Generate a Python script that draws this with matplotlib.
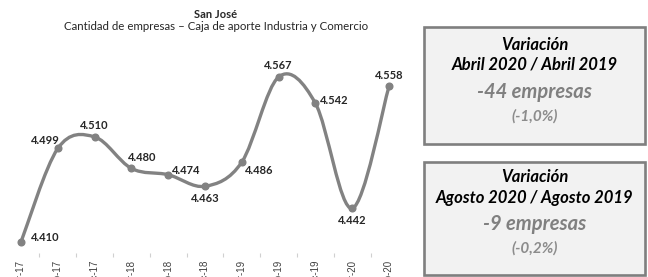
"""San José - cantidad de empresas, Caja de aporte Industria y Comercio."""

import matplotlib

matplotlib.use("Agg")
import matplotlib.pyplot as plt
import numpy as np
from matplotlib.patches import PathPatch, Rectangle
from matplotlib.path import Path

# Data
PERIODS = [
    "abr-17", "ago-17", "dic-17",
    "abr-18", "ago-18", "dic-18",
    "abr-19", "ago-19", "dic-19",
    "abr-20", "ago-20",
]
EMPRESAS = [4.410, 4.499, 4.510, 4.480, 4.474, 4.463, 4.486, 4.567, 4.542, 4.442, 4.558]
LABELS = ["4.410", "4.499", "4.510", "4.480", "4.474", "4.463",
          "4.486", "4.567", "4.542", "4.442", "4.558"]

TITLE = "San José"
SUBTITLE = "Cantidad de empresas – Caja de aporte Industria y Comercio"

BOX_TITLES = ["Abril 2020 / Abril 2019", "Agosto 2020 / Agosto 2019"]
BOX_VALUES = ["-44 empresas", "-9 empresas"]
BOX_PCTS = ["(-1,0%)", "(-0,2%)"]

# Style
W, H = 648, 277
LINE_GREY = "#828282"
TEXT_DARK = "#262626"
FONT = "Lato"

# label offsets in points (dx, dy) and horizontal alignment
LABEL_POS = [
    ((7, 3), "left"), ((-9, 6), "center"), ((0, 8), "center"),
    ((8, 8), "center"), ((3, 3), "left"), ((0, -9), "center"),
    ((2, -6), "left"), ((0, 8), "center"), ((3, 2), "left"),
    ((0, -9), "center"), ((0, 8), "center"),
]


def smooth_path(x, y):
    """Excel-like smoothed line through the points (cubic bezier)."""
    pts = np.column_stack([x, y])
    n = len(pts)
    verts = [pts[0]]
    codes = [Path.MOVETO]
    for i in range(n - 1):
        p0 = pts[max(i - 1, 0)]
        p1 = pts[i]
        p2 = pts[i + 1]
        p3 = pts[min(i + 2, n - 1)]
        verts += [p1 + (p2 - p0) / 6, p2 - (p3 - p1) / 6, p2]
        codes += [Path.CURVE4] * 3
    return Path(verts, codes)


def fx(px):
    return px / W


def fy(py):
    return 1 - py / H


fig = plt.figure(figsize=(W / 100, H / 100), dpi=100)
ax = fig.add_axes([fx(2.6), fy(257), fx(404.8), (257 - 40) / H])

x = np.arange(len(EMPRESAS))
ax.add_patch(
    PathPatch(smooth_path(x, EMPRESAS), facecolor="none", edgecolor=LINE_GREY,
              lw=2.4, capstyle="round", joinstyle="round")
)
ax.plot(x, EMPRESAS, "o", color=LINE_GREY, ms=4.8, zorder=3)

for xi, yi, lab, ((dx, dy), ha) in zip(x, EMPRESAS, LABELS, LABEL_POS):
    ax.annotate(lab, (xi, yi), xytext=(dx, dy), textcoords="offset points",
                ha=ha, va="center", fontsize=8, fontweight="bold",
                family=FONT, color=TEXT_DARK)

ax.set_xlim(-0.5, len(EMPRESAS) - 0.5)
ax.set_ylim(4.3957, 4.6022)
ax.set_xticks(x)
ax.set_xticklabels(PERIODS, rotation=90, fontsize=7, color="#404040",
                   family="Liberation Sans", va="top")
ax.set_xticks(x[:-1] + 0.5, minor=True)
ax.tick_params(axis="x", which="major", length=0, pad=2)
ax.tick_params(axis="x", which="minor", length=3, direction="in",
               color="#d0d0d0", width=0.8)
ax.set_yticks([])
for s in ax.spines.values():
    s.set_visible(False)
ax.patch.set_visible(False)

fig.text(fx(216), fy(15), TITLE, ha="center", va="center", fontsize=8,
         fontweight="bold", family=FONT, color=TEXT_DARK)
fig.text(fx(216), fy(26), SUBTITLE, ha="center", va="center", fontsize=8.3,
         family=FONT, color=TEXT_DARK)

# variation boxes
boxes = [(27, 144), (162, 275)]
text_rows = [(45, 64, 92, 116), (177, 198, 224, 248)]
cx = (424 + 645) / 2
for (top, bot), rows, t, v, p in zip(boxes, text_rows, BOX_TITLES, BOX_VALUES, BOX_PCTS):
    fig.add_artist(Rectangle((fx(424), fy(bot)), fx(221), (bot - top) / H,
                             facecolor="#f2f2f2", edgecolor="#7f7f7f", lw=1.9))
    fig.text(fx(cx), fy(rows[0]), "Variación", ha="center", va="center",
             fontsize=12, fontweight="bold", style="italic", family=FONT,
             color="black")
    fig.text(fx(cx), fy(rows[1]), t, ha="center", va="center", fontsize=12,
             fontweight="bold", style="italic", family=FONT, color="black")
    fig.text(fx(cx), fy(rows[2]), v, ha="center", va="center", fontsize=14.5,
             fontweight="bold", style="italic", family=FONT, color="#808080")
    fig.text(fx(cx), fy(rows[3]), p, ha="center", va="center", fontsize=11,
             fontweight="bold", style="italic", family=FONT, color="#8c8c8c")

fig.savefig("out.png", dpi=100)
